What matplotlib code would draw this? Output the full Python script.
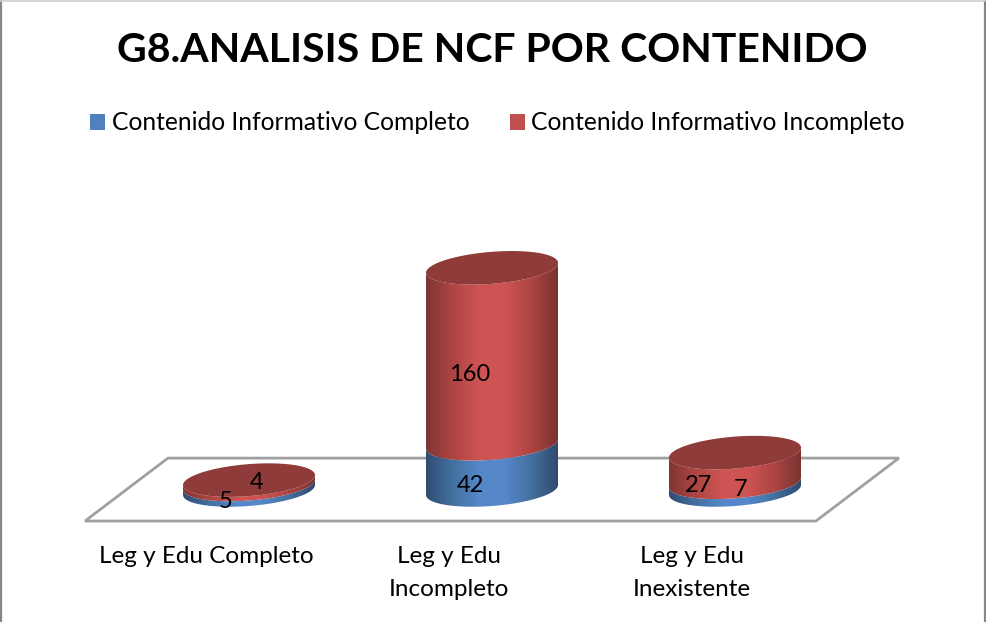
"""G8 stacked cylinder chart, drawn by hand because matplotlib has no 3D cylinder bars."""
import matplotlib.pyplot as plt
import numpy as np
from matplotlib.colors import LinearSegmentedColormap
from matplotlib.lines import Line2D
from matplotlib.patches import Patch, PathPatch, Polygon
from matplotlib.path import Path

categories = ["Leg y Edu Completo", "Leg y Edu\nIncompleto", "Leg y Edu\nInexistente"]
completo = [5, 42, 7]
incompleto = [4, 160, 27]
series_names = ["Contenido Informativo Completo", "Contenido Informativo Incompleto"]
title = "G8.ANALISIS DE NCF POR CONTENIDO"

W, H = 987, 622
SPACING = 243  # px between categories
PX_PER_UNIT = 1.1
X1_PX, Y0_PX = 492, 490  # where category 1 / value 0 land

BLUE = "#4F81BD"
RED = "#C0504D"
TOP = "#8E3B39"
FLOOR = "#A0A0A0"

blue_cm = LinearSegmentedColormap.from_list("b", ["#2F4C74", "#44709F", "#5587C9", "#5587C9", "#44709F", "#2F4A70"])
red_cm = LinearSegmentedColormap.from_list("r", ["#803634", "#AD4543", "#CD5452", "#CD5452", "#AD4543", "#793331"])

plt.rcParams["font.family"] = ["Lato", "DejaVu Sans"]

fig = plt.figure(figsize=(W / 100, H / 100), dpi=100)
ax = fig.add_axes([0, 0, 1, 1])
ax.axis("off")

# cylinder shape in data units
a = 66 / SPACING
b = 16 / PX_PER_UNIT
k = 5 / PX_PER_UNIT
t_front = np.linspace(np.pi, 2 * np.pi, 80)
t_all = np.linspace(0, 2 * np.pi, 160)


def ring(cx, y, t):
    return cx + a * np.cos(t), y + b * np.sin(t) + k * np.cos(t)


def segment(cx, v0, v1, cmap, z):
    xl, yl = ring(cx, v0, t_front)
    xu, yu = ring(cx, v1, t_front)
    verts = np.column_stack([np.r_[xl, xu[::-1]], np.r_[yl, yu[::-1]]])
    clip = PathPatch(Path(np.vstack([verts, verts[0]])), fc="none", ec="none",
                     transform=ax.transData)
    ax.add_patch(clip)
    im = ax.imshow(np.linspace(0, 1, 256)[None, :], cmap=cmap, aspect="auto", zorder=z,
                   extent=[cx - a, cx + a, yl.min(), yu.max()], interpolation="bilinear")
    im.set_clip_path(clip)


# floor, its corners sit outside the categories
front_l, front_r = -0.675, 2.333
skew = 83 / SPACING
front_y, back_y = -28.2, 29
ax.add_patch(Polygon([(front_l, front_y), (front_l + skew, back_y), (front_r + skew, back_y),
                      (front_r, front_y)], closed=True, fc="white", ec=FLOOR, lw=2, zorder=1))

for i, (low, high) in enumerate(zip(completo, incompleto)):
    segment(i, 0, low, blue_cm, 2 + i)
    segment(i, low, low + high, red_cm, 2.2 + i)
    x, y = ring(i, low + high, t_all)
    ax.fill(x, y, color=TOP, lw=0, zorder=2.4 + i)
# imshow resets the limits, so they are set after the marks
ax.set_xlim((0 - X1_PX) / SPACING + 1, (W - X1_PX) / SPACING + 1)
ax.set_ylim((Y0_PX - H) / PX_PER_UNIT, Y0_PX / PX_PER_UNIT)

# value labels were moved by hand in the original, so each has its own offset
low_offsets = [(-23, -14), (-22, -19), (5.5, -3)]
high_offsets = [(8, 0), (-22, -19), (-36, -18.5)]
for i, (low, high) in enumerate(zip(completo, incompleto)):
    ax.annotate(str(low), (i, low / 2), xytext=low_offsets[i], textcoords="offset pixels",
                ha="center", va="center", fontsize=17, zorder=10)
    ax.annotate(str(high), (i, low + high / 2), xytext=high_offsets[i], textcoords="offset pixels",
                ha="center", va="center", fontsize=17, zorder=10)

for i, name in enumerate(categories):
    ax.text(i - 43 / SPACING, (Y0_PX - 546) / PX_PER_UNIT, name, ha="center", va="top",
            fontsize=17.5, linespacing=1.72)

fig.text(492.5 / W, 1 - 51 / H, title, ha="center", va="center", fontsize=29.5, fontweight="bold")

fig.legend(handles=[Patch(color=BLUE, lw=0), Patch(color=RED, lw=0)], labels=series_names,
           loc="center", bbox_to_anchor=(497.5 / W, 1 - 123 / H), ncol=2, frameon=False,
           fontsize=17.7, handlelength=0.61, handleheight=0.61, handletextpad=0.28, columnspacing=1.63)

# chart area border, no line along the bottom
fig.add_artist(Line2D([1 / W, 1 / W], [0, 1], color="#868686", lw=1.6))
fig.add_artist(Line2D([985 / W, 985 / W], [0, 1], color="#868686", lw=1.6))
fig.add_artist(Line2D([0, 1], [1 - 0.5 / H, 1 - 0.5 / H], color="#D0D0D0", lw=1.2))

fig.savefig("out.png", dpi=100)
